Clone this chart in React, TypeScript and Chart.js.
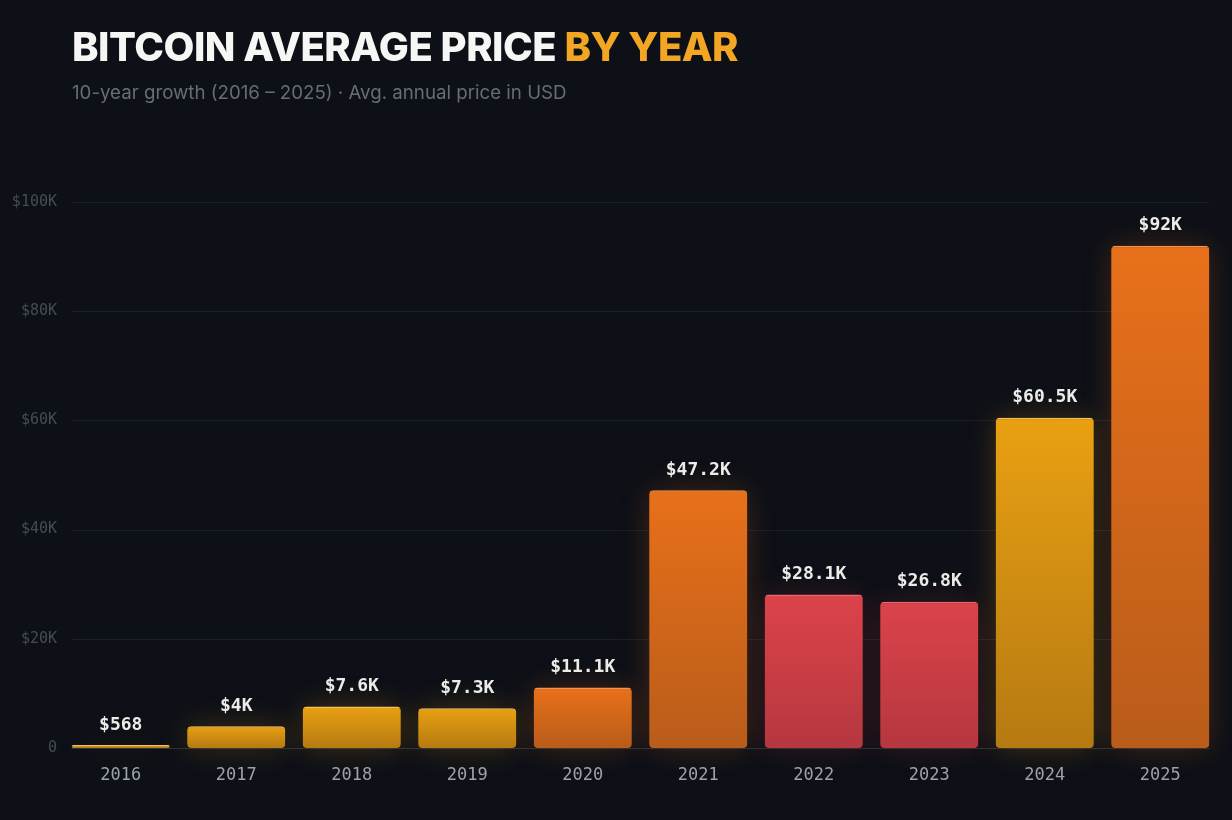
import React, { useEffect, useRef } from "react";
import { Chart, registerables } from "chart.js";

Chart.register(...registerables);

const years = ["2016", "2017", "2018", "2019", "2020", "2021", "2022", "2023", "2024", "2025"];
const prices = [568, 4000, 7600, 7300, 11100, 47200, 28100, 26800, 60500, 92000];
const priceLabels = ["$568", "$4K", "$7.6K", "$7.3K", "$11.1K", "$47.2K", "$28.1K", "$26.8K", "$60.5K", "$92K"];
const yTickValues = [0, 20000, 40000, 60000, 80000, 100000];
const yTickLabels = ["0", "$20K", "$40K", "$60K", "$80K", "$100K"];
const barTones = ["gold", "gold", "gold", "gold", "orange", "orange", "red", "red", "gold", "orange"];

const PALETTE: Record<string, { top: string; bottom: string; edge: string; glow: string }> = {
  gold: { top: "#e9a012", bottom: "#b67a12", edge: "#f3c160", glow: "rgba(234,160,20,0.5)" },
  orange: { top: "#e8701a", bottom: "#b95c1a", edge: "#f39250", glow: "rgba(236,112,24,0.5)" },
  red: { top: "#dc434b", bottom: "#b6373f", edge: "#e86a70", glow: "rgba(220,66,74,0.45)" },
};

const MONO = '"DejaVu Sans Mono", "Liberation Mono", monospace';

export default function App() {
  const ref = useRef<HTMLCanvasElement | null>(null);

  useEffect(() => {
    if (!ref.current) return;

    const gradFor = (chart: any, i: number) => {
      const y = chart.scales?.y;
      const tone = PALETTE[barTones[i]];
      if (!y || !chart.chartArea) return tone.top;
      const top = y.getPixelForValue(prices[i]);
      const bot = y.getPixelForValue(0);
      if (!isFinite(top) || !isFinite(bot) || bot - top < 0.5) return tone.top;
      const g = chart.ctx.createLinearGradient(0, top, 0, bot);
      g.addColorStop(0, tone.top);
      g.addColorStop(1, tone.bottom);
      return g;
    };

    const gridAndGlow = {
      id: "gridAndGlow",
      beforeDatasetsDraw(chart: any) {
        const ctx = chart.ctx;
        const meta = chart.getDatasetMeta(0);
        const first = meta.data[0];
        const last = meta.data[meta.data.length - 1];
        const left = first.x - first.width / 2;
        const right = last.x + last.width / 2;
        const y = chart.scales.y;
        ctx.save();
        yTickValues.forEach((v) => {
          const py = Math.round(y.getPixelForValue(v)) + 0.5;
          ctx.strokeStyle = v === 0 ? "#2b2f38" : "#1b1f28";
          ctx.lineWidth = 1;
          ctx.beginPath();
          ctx.moveTo(left, py);
          ctx.lineTo(right, py);
          ctx.stroke();
        });
        meta.data.forEach((bar: any, i: number) => {
          const tone = PALETTE[barTones[i]];
          const w = bar.width;
          const x0 = bar.x - w / 2;
          const top = bar.y;
          const h = bar.base - bar.y;
          ctx.shadowColor = tone.glow;
          ctx.shadowBlur = 30;
          ctx.fillStyle = tone.glow;
          ctx.beginPath();
          ctx.roundRect(x0 + 1, top + 1, w - 2, Math.max(h - 1, 1), 4);
          ctx.fill();
        });
        ctx.restore();
      },
      afterDatasetsDraw(chart: any) {
        const ctx = chart.ctx;
        const meta = chart.getDatasetMeta(0);
        ctx.save();
        ctx.font = "bold 18px " + MONO;
        ctx.fillStyle = "#ecebe8";
        ctx.textAlign = "center";
        ctx.textBaseline = "middle";
        meta.data.forEach((bar: any, i: number) => {
          ctx.fillText(priceLabels[i], bar.x, bar.y - 20);
        });
        ctx.restore();
      },
    };

    const chart = new Chart(ref.current, {
      type: "bar",
      data: {
        labels: years,
        datasets: [
          {
            data: prices,
            backgroundColor: (c: any) => gradFor(c.chart, c.dataIndex),
            borderColor: (c: any) => PALETTE[barTones[c.dataIndex]].edge,
            borderWidth: { top: 1.5, left: 0, right: 0, bottom: 0 },
            borderRadius: 4,
            borderSkipped: false,
            barPercentage: 0.85,
            categoryPercentage: 1,
          },
        ],
      },
      options: {
        animation: false,
        responsive: false,
        events: [],
        layout: { padding: { left: 0, right: 14, top: 202, bottom: 0 } },
        plugins: {
          legend: { display: false },
          tooltip: { enabled: false },
        },
        scales: {
          x: {
            grid: { display: false, drawTicks: false },
            border: { display: false },
            ticks: {
              color: "#9ea2aa",
              font: { family: MONO, size: 17 },
              padding: 17,
            },
            afterFit: (s: any) => {
              s.height = 72;
            },
          },
          y: {
            min: 0,
            max: 100000,
            grid: { display: false, drawTicks: false },
            border: { display: false },
            afterBuildTicks: (s: any) => {
              s.ticks = yTickValues.map((v) => ({ value: v }));
            },
            ticks: {
              color: "#474b55",
              font: { family: MONO, size: 15 },
              padding: 6,
              callback: (_v: any, i: number) => yTickLabels[i],
            },
            afterFit: (s: any) => {
              s.width = 63;
            },
          },
        },
      },
      plugins: [gridAndGlow],
    });
    chart.update();
    return () => chart.destroy();
  }, []);

  return (
    <div style={{ position: "relative", width: 1232, height: 820, background: "#0d1017", overflow: "hidden" }}>
      <style>{"body{margin:0;background:#0d1017;}"}</style>
      <canvas ref={ref} width={1232} height={820} style={{ position: "absolute", left: 0, top: 0, width: 1232, height: 820 }} />
      <div
        style={{
          position: "absolute",
          left: 72,
          top: 27,
          fontFamily: "Inter, 'Noto Sans', sans-serif",
          fontWeight: 800,
          fontSize: 40,
          lineHeight: "40px",
          letterSpacing: -0.5,
          color: "#f6f6f4",
          whiteSpace: "nowrap",
        }}
      >
        BITCOIN AVERAGE PRICE <span style={{ color: "#f2a623" }}>BY YEAR</span>
      </div>
      <div
        style={{
          position: "absolute",
          left: 72,
          top: 84,
          fontFamily: "Inter, 'Noto Sans', sans-serif",
          fontWeight: 400,
          fontSize: 18.7,
          lineHeight: "18px",
          color: "#686c76",
          whiteSpace: "nowrap",
        }}
      >
        10-year growth (2016 – 2025) · Avg. annual price in USD
      </div>
    </div>
  );
}
